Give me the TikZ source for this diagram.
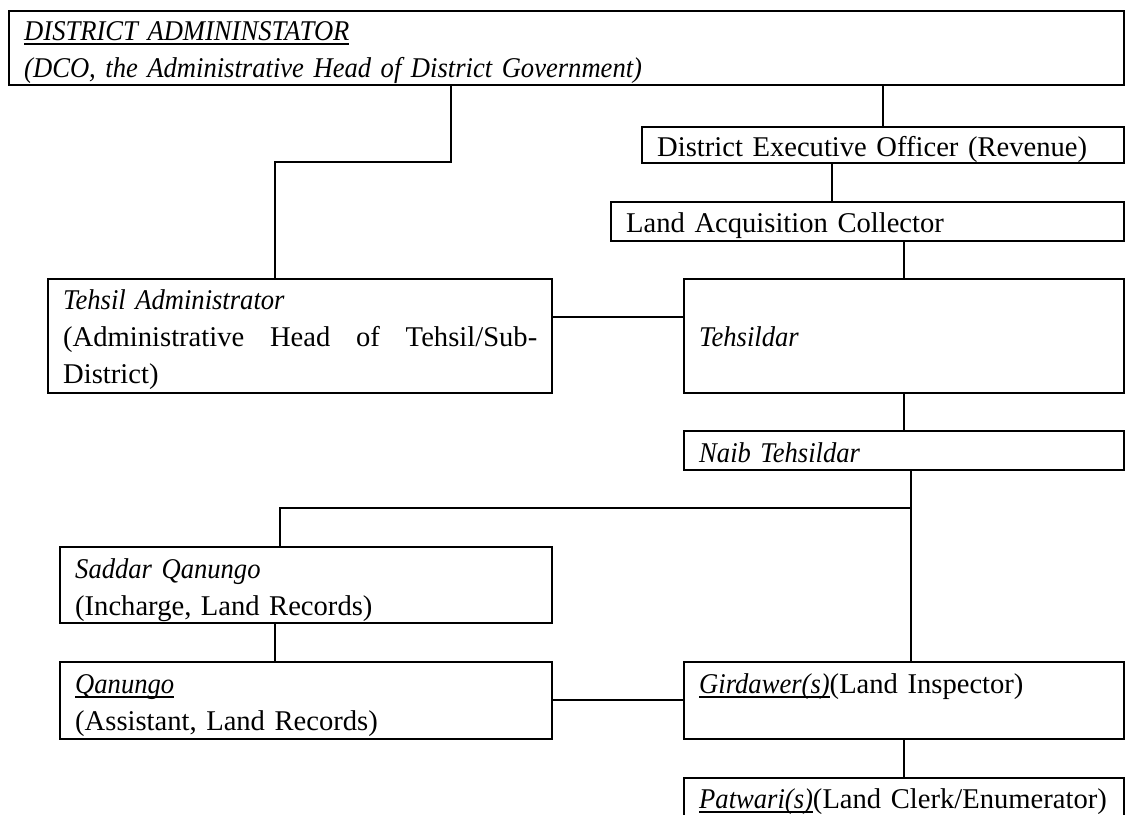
\documentclass[tikz,border=0pt]{standalone}
\usepackage{fontspec}
\setmainfont{Liberation Serif}[ItalicFeatures={FakeStretch=0.93}]

\newcommand{\ulword}[1]{\setbox0\hbox{#1}\rlap{\rule[-2.3pt]{\wd0}{0.7pt}}\box0}
\tikzstyle{office} = [draw, line width=1.2pt, anchor=north west, inner xsep=7.5pt, inner ysep=0pt, align=left, font=\fontsize{14.3}{18.5}\selectfont]
\tikzstyle{link} = [line width=1.2pt]

\begin{document}
\begin{tikzpicture}[x=0.5pt, y=-0.5pt]
  \useasboundingbox (0,0) rectangle (1128,814);
  \clip (0,0) rectangle (1128,814);
  \node[office, text width=542.5pt, text height=14.5pt, text depth=22.5pt] (dco) at (8,10) {\itshape\ulword{DISTRICT ADMININSTATOR}\\(DCO, the Administrative Head of District Government)};
  \node[office, text width=226pt, text height=14.5pt, text depth=3.5pt] (deo) at (641,126) {District Executive Officer (Revenue)};
  \node[office, text width=241.5pt, text height=15pt, text depth=4.5pt] (lac) at (610,201) {Land Acquisition Collector};
  \node[office, text width=237pt, text height=15pt, text depth=42pt] (ta) at (47,278) {\textit{Tehsil Administrator}\\(Administrative\hfill Head\hfill of\hfill Tehsil/Sub-\\District)};
  \node[office, text width=205pt, text height=15pt, text depth=42pt] (tdr) at (683,278) {\mbox{}\\\textit{Tehsildar}};
  \node[office, text width=205pt, text height=15.5pt, text depth=4pt] (naib) at (683,430) {\textit{Naib Tehsildar}};
  \node[office, text width=231pt, text height=15.5pt, text depth=22.5pt] (sq) at (59,546) {\textit{Saddar Qanungo}\\(Incharge, Land Records)};
  \node[office, text width=231pt, text height=15.5pt, text depth=23pt] (qg) at (59,661) {\ulword{\textit{Qanungo}}\\(Assistant, Land Records)};
  \node[office, text width=205pt, text height=15.5pt, text depth=23pt] (gd) at (683,661) {\ulword{\textit{Girdawer(s)}}(Land Inspector)};
  \node[office, text width=205pt, text height=15pt, text depth=20pt] (pw) at (683,777) {\ulword{\textit{Patwari(s)}}(Land~Clerk/Enumerator)};

  \coordinate (j1) at (832,0);
  \coordinate (j2) at (451,162);
  \coordinate (j3) at (275,162);
  \coordinate (j4) at (0,317);
  \coordinate (j5) at (911,508);
  \coordinate (j6) at (280,508);
  \coordinate (j7) at (275,0);
  \coordinate (j8) at (0,700);

  \draw[link] (dco.south -| deo.north) -- (deo.north);
  \draw[link] (deo.south -| j1) -- (lac.north -| j1);
  \draw[link] (lac.south -| tdr.north) -- (tdr.north);
  \draw[link] (dco.south -| j2) -- (j2) -- (j3) -- (ta.north -| j3);
  \draw[link] (ta.east |- j4) -- (tdr.west |- j4);
  \draw[link] (tdr.south) -- (naib.north);
  \draw[link] (naib.south -| j5) -- (gd.north -| j5);
  \draw[link] (j5) -- (j6) -- (sq.north -| j6);
  \draw[link] (sq.south -| j7) -- (qg.north -| j7);
  \draw[link] (qg.east |- j8) -- (gd.west |- j8);
  \draw[link] (gd.south) -- (pw.north);
\end{tikzpicture}
\end{document}
